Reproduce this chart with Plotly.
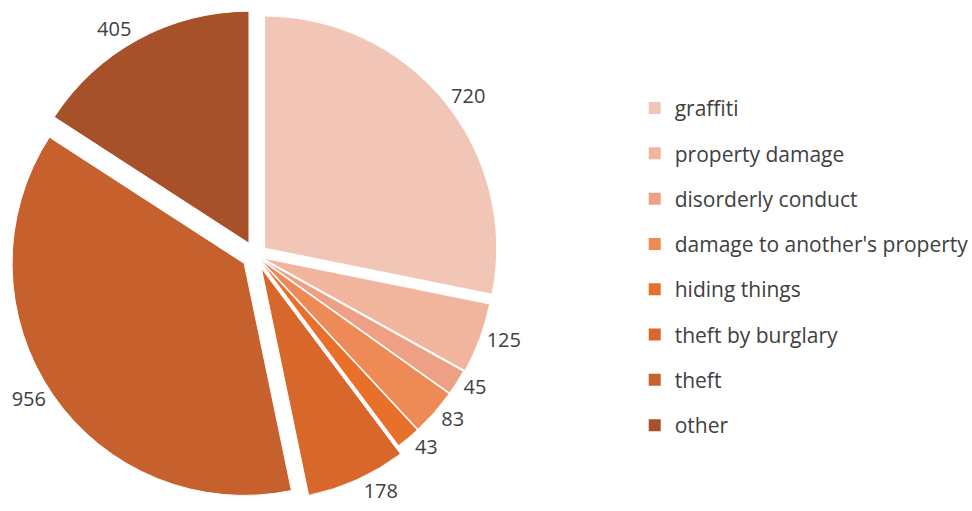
import plotly.graph_objects as go

categories = ["graffiti", "property damage", "disorderly conduct", "damage to another's property",
              "hiding things", "theft by burglary", "theft", "other"]
values = [720, 125, 45, 83, 43, 178, 956, 405]
colors = ["#f2c6b6", "#f1b49c", "#eda083", "#ee8a56", "#e8702b", "#d8672b", "#c6602d", "#a6512a"]
pulls = [0.05, 0.03, 0.025, 0.025, 0.025, 0.06, 0.06, 0.06]

fig = go.Figure()
fig.add_trace(go.Pie(
    labels=categories, values=values, sort=False, direction="clockwise", rotation=0,
    marker=dict(colors=colors, line=dict(color="white", width=1)),
    pull=pulls, textinfo="value", textposition="outside", automargin=False,
    textfont=dict(family="Open Sans", size=20, color="#404040"),
    domain=dict(x=[0, 0.526], y=[0.0186, 0.9814]), showlegend=False, hoverinfo="label+value",
))
for cat, col in zip(categories, colors):
    fig.add_trace(go.Scatter(x=[None], y=[None], mode="markers", name=cat, legendgroup=cat,
                             marker=dict(symbol="square", size=12, color=col)))

fig.update_layout(
    width=972, height=511, margin=dict(l=0, r=0, t=0, b=0, autoexpand=False),
    paper_bgcolor="white", plot_bgcolor="white",
    xaxis=dict(visible=False), yaxis=dict(visible=False),
    legend=dict(x=0.653, y=0.828, xanchor="left", yanchor="top", tracegroupgap=15,
                font=dict(family="Open Sans", size=21, color="#404040"), itemwidth=30),
)
fig.write_html("out.html")
